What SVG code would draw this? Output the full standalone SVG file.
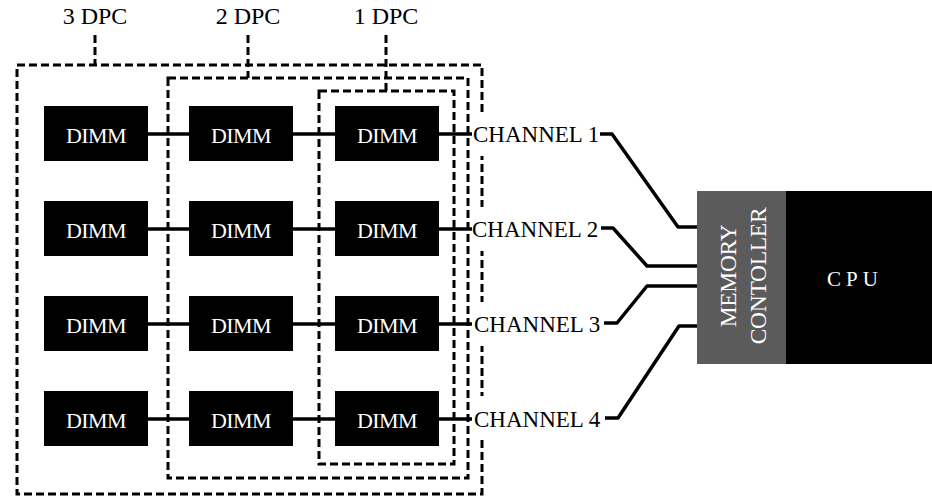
<svg xmlns="http://www.w3.org/2000/svg" width="932" height="496" viewBox="0 0 932 496">
  <style>
    .dpc { fill: none; stroke: #000; stroke-width: 3; stroke-dasharray: 8 4; }
    .lead { fill: none; stroke: #000; stroke-width: 3; stroke-dasharray: 8 4; }
    .dimm rect { fill: #000; }
    .dimm text { fill: #fff; font-family: "Liberation Serif", "Times New Roman", serif; font-size: 22px; text-anchor: middle; letter-spacing: -0.6px; }
    .lbl { fill: #000; font-family: "Liberation Serif", "Times New Roman", serif; font-size: 23px; }
    .cap { font-size: 24px; text-anchor: middle; }
    .vert { fill: #fff; font-family: "Liberation Serif", "Times New Roman", serif; font-size: 23.5px; text-anchor: middle; letter-spacing: -0.3px; }
    .wire { fill: none; stroke: #000; stroke-width: 3.5; stroke-linejoin: round; }
    .chan rect { fill: #fff; }
  </style>

  <!-- DPC groupings: nested dashed frames with their captions -->
  <g id="dpc3">
    <rect class="dpc" x="17" y="65" width="465" height="429"/>
    <line class="lead" x1="95" y1="35" x2="95" y2="65"/>
    <text class="lbl cap" x="95" y="24">3 DPC</text>
  </g>
  <g id="dpc2">
    <rect class="dpc" x="168" y="78" width="300" height="400"/>
    <line class="lead" x1="248" y1="35" x2="248" y2="78"/>
    <text class="lbl cap" x="248" y="24">2 DPC</text>
  </g>
  <g id="dpc1">
    <rect class="dpc" x="319" y="91" width="135" height="373"/>
    <line class="lead" x1="386" y1="35" x2="386" y2="91"/>
    <text class="lbl cap" x="386" y="24">1 DPC</text>
  </g>

  <!-- Wiring: DIMM daisy chains and channel routes to the memory controller -->
  <g id="connectors">
    <line class="wire" x1="148" y1="134" x2="472" y2="134"/>
    <line class="wire" x1="148" y1="229" x2="472" y2="229"/>
    <line class="wire" x1="148" y1="324" x2="472" y2="324"/>
    <line class="wire" x1="148" y1="419" x2="472" y2="419"/>
    <polyline class="wire" points="600,134 612,134 678,227 697,227"/>
    <polyline class="wire" points="601,228 613,228 647,266 697,266"/>
    <polyline class="wire" points="604,323 617,323 647,286 697,286"/>
    <polyline class="wire" points="605,418 618,418 679,326 697,326"/>
  </g>

  <!-- DIMM modules -->
  <g id="dimm-1-1" class="dimm"><rect x="44" y="106" width="104" height="55"/><text x="96" y="143">DIMM</text></g>
  <g id="dimm-1-2" class="dimm"><rect x="189" y="106" width="104" height="55"/><text x="241" y="143">DIMM</text></g>
  <g id="dimm-1-3" class="dimm"><rect x="335" y="106" width="104" height="55"/><text x="387" y="143">DIMM</text></g>
  <g id="dimm-2-1" class="dimm"><rect x="44" y="201" width="104" height="55"/><text x="96" y="238">DIMM</text></g>
  <g id="dimm-2-2" class="dimm"><rect x="189" y="201" width="104" height="55"/><text x="241" y="238">DIMM</text></g>
  <g id="dimm-2-3" class="dimm"><rect x="335" y="201" width="104" height="55"/><text x="387" y="238">DIMM</text></g>
  <g id="dimm-3-1" class="dimm"><rect x="44" y="296" width="104" height="55"/><text x="96" y="333">DIMM</text></g>
  <g id="dimm-3-2" class="dimm"><rect x="189" y="296" width="104" height="55"/><text x="241" y="333">DIMM</text></g>
  <g id="dimm-3-3" class="dimm"><rect x="335" y="296" width="104" height="55"/><text x="387" y="333">DIMM</text></g>
  <g id="dimm-4-1" class="dimm"><rect x="44" y="391" width="104" height="55"/><text x="96" y="428">DIMM</text></g>
  <g id="dimm-4-2" class="dimm"><rect x="189" y="391" width="104" height="55"/><text x="241" y="428">DIMM</text></g>
  <g id="dimm-4-3" class="dimm"><rect x="335" y="391" width="104" height="55"/><text x="387" y="428">DIMM</text></g>

  <!-- Channel labels (white backing breaks the outer frame) -->
  <g id="channel-1" class="chan"><rect x="472" y="112" width="127" height="44"/><text class="lbl" x="473" y="142">CHANNEL 1</text></g>
  <g id="channel-2" class="chan"><rect x="472" y="207" width="128" height="44"/><text class="lbl" x="472" y="237">CHANNEL 2</text></g>
  <g id="channel-3" class="chan"><rect x="472" y="302" width="130" height="44"/><text class="lbl" x="474" y="332">CHANNEL 3</text></g>
  <g id="channel-4" class="chan"><rect x="472" y="396" width="131" height="44"/><text class="lbl" x="474" y="427">CHANNEL 4</text></g>

  <!-- Processor with integrated memory controller -->
  <g id="memory-controller">
    <rect x="697" y="191" width="89" height="173" fill="#5b5b5b"/>
    <text class="vert" transform="translate(736 276) rotate(-90)">MEMORY</text>
    <text class="vert" transform="translate(766 276) rotate(-90)">CONTOLLER</text>
  </g>
  <g id="cpu">
    <rect x="786" y="191" width="146" height="173" fill="#000"/>
    <text x="855" y="286" fill="#fff" font-family="Liberation Serif, Times New Roman, serif" font-size="21" text-anchor="middle" letter-spacing="5">CPU</text>
  </g>
</svg>
